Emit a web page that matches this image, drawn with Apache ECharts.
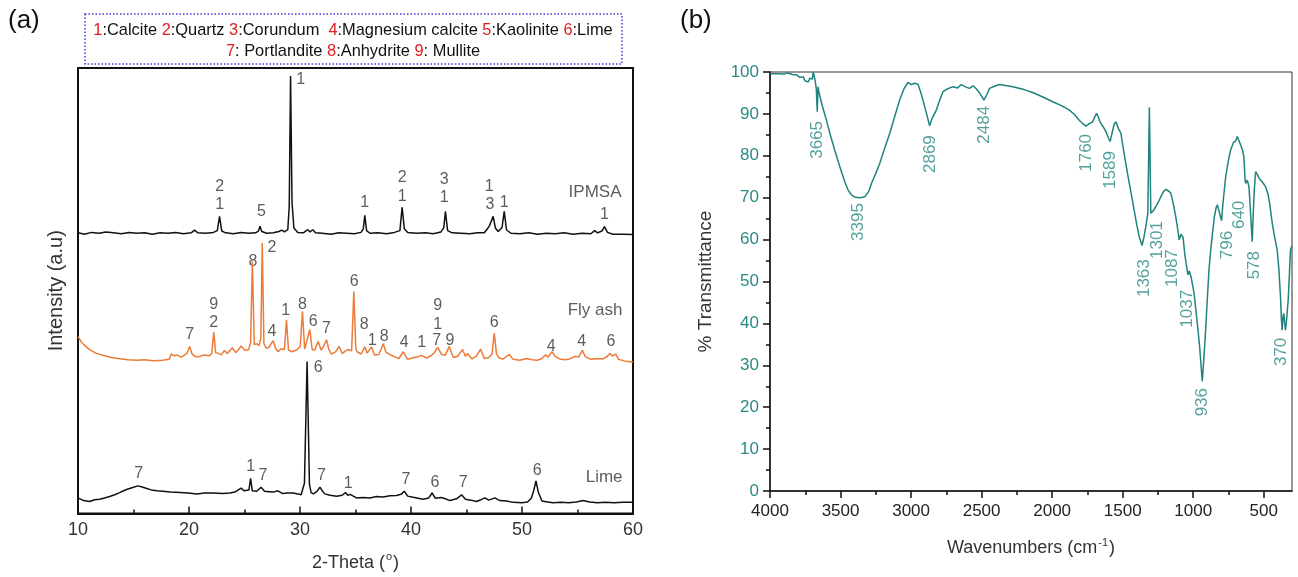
<!DOCTYPE html>
<html>
<head>
<meta charset="utf-8">
<script src="https://cdn.jsdelivr.net/npm/echarts@6/dist/echarts.min.js"></script>
<style>
html,body{margin:0;padding:0;background:#fff;}
#chart{width:1298px;height:577px;}
</style>
</head>
<body>
<div id="chart"></div>
<script>
// ---------- XRD data (2-Theta, intensity above own baseline) ----------
const xrdIPMSA = [[10,0.1],[10.6,-0.2],[11.2,0.2],[11.9,0],[12.5,0.3],[13.2,0.1],[13.9,-0.1],[14.6,0.2],[15.3,0],[16,0.1],[16.7,-0.2],[17.4,0.1],[18.1,0],[18.8,0.2],[19.5,-0.1],[20.2,0.1],[20.5,0.7],[20.8,0.1],[21.5,0],[22.2,0.2],[22.55,0.6],[22.75,3.8],[22.95,0.5],[23.3,0.1],[24,-0.1],[24.7,0.2],[25.4,0],[26,0.1],[26.25,0.5],[26.4,1.6],[26.55,0.4],[27,0],[27.6,0.1],[28.1,0.4],[28.35,0.7],[28.6,0.3],[28.9,0.8],[29.03,6],[29.15,35.3],[29.28,7],[29.45,1.2],[29.8,0.2],[30.3,0.1],[30.7,0.8],[30.9,0.3],[31.15,0.8],[31.4,0.1],[32,0],[32.8,-0.2],[33.5,0.1],[34.2,0],[34.9,-0.1],[35.5,0.2],[35.7,1],[35.84,4],[36,0.6],[36.3,0],[37,0.1],[37.8,-0.1],[38.5,0.2],[39,0.6],[39.2,5.8],[39.4,1.0],[39.7,0.2],[40.5,0],[41.3,0.1],[42,-0.1],[42.7,0.3],[42.95,1.2],[43.1,4.9],[43.3,0.6],[43.7,0.1],[44.5,0],[45.3,-0.1],[46,0.1],[46.6,0.1],[46.85,0.9],[47.05,1.6],[47.2,1.2],[47.4,3.8],[47.6,1.2],[47.85,0.4],[48.2,1.3],[48.4,4.9],[48.6,0.8],[49,0],[49.8,-0.1],[50.6,0.1],[51.4,-0.2],[52.2,0],[53,-0.1],[53.8,0.1],[54.6,-0.2],[55.4,0],[56.2,-0.1],[56.55,0.6],[56.8,0.1],[57.2,0.5],[57.43,1.5],[57.7,0.2],[58.2,-0.2],[59,-0.2],[60,-0.3]];

const xrdFlyAsh = [[10,5.4],[10.3,4.2],[10.7,3.2],[11.05,2.5],[11.6,1.7],[12.25,1.2],[13,0.7],[13.75,0.45],[14.5,0.2],[15.3,0.1],[16,0.2],[16.8,0],[17.6,0.1],[18.2,0.3],[18.4,1.5],[18.7,1.1],[18.9,1.3],[19.3,0.8],[19.8,1.6],[20.06,3.2],[20.3,1.4],[20.67,0.8],[21,1],[21.4,1.3],[21.8,1.1],[22.05,1.6],[22.23,6.4],[22.4,1.8],[22.6,1.7],[22.9,1.3],[23.2,2.3],[23.45,1.6],[23.9,2.9],[24.2,1.8],[24.5,2.6],[24.7,3.3],[25,2.4],[25.35,2.4],[25.55,4],[25.71,22.3],[25.88,3.6],[26.1,3.8],[26.3,3.4],[26.47,5],[26.6,26.4],[26.75,3.8],[26.96,2.8],[27.2,3.0],[27.58,4.5],[27.8,2.8],[28.03,2.0],[28.3,2.7],[28.6,2.5],[28.78,9.2],[28.96,2.4],[29.23,2.0],[29.7,2.4],[30.02,3.2],[30.22,11.1],[30.42,2.6],[30.6,2.3],[30.88,7.0],[31.1,2.5],[31.33,2.4],[31.63,4.3],[31.9,2.4],[32.1,3.1],[32.39,4.7],[32.6,2.5],[32.84,1.5],[33.2,2.0],[33.53,3.2],[33.8,1.6],[34.1,2.2],[34.34,2.5],[34.65,2.2],[34.85,15.5],[35.03,2.6],[35.16,2.0],[35.5,1.5],[35.84,3.1],[36.05,1.7],[36.45,3.1],[36.7,1.3],[37.1,1.4],[37.5,3.8],[37.75,1.9],[38.1,1.4],[38.6,0.8],[38.9,0.5],[39.3,2.0],[39.7,0.3],[40.1,0.6],[40.6,0.9],[40.95,1.2],[41.4,0.6],[41.8,1.1],[42.1,1.8],[42.4,3.0],[42.75,1.4],[43.1,1.3],[43.45,3.2],[43.8,0.7],[44.2,1.0],[44.65,2.5],[44.9,1.0],[45.1,1.6],[45.5,0.4],[45.9,1.1],[46.27,2.6],[46.6,0.5],[47.0,0.7],[47.3,1.5],[47.5,6.2],[47.7,1.6],[47.95,0.6],[48.3,0.4],[48.86,1.4],[49.2,0.3],[49.8,0.1],[50.4,0.5],[50.9,0.2],[51.4,0.1],[51.8,0.5],[52.1,1.3],[52.35,0.8],[52.7,2.0],[53,0.9],[53.4,0.4],[53.9,0.2],[54.3,0.4],[54.8,1.0],[55.1,0.8],[55.43,2.3],[55.7,0.9],[56.2,0.3],[56.8,0.5],[57.3,0.4],[57.7,1.0],[57.93,1.7],[58.15,1.0],[58.44,1.5],[58.7,0.3],[59.3,-0.1],[60,-0.3]];

const xrdLime = [[10,0.4],[10.5,-0.2],[11.05,-0.4],[11.5,0],[11.95,0.1],[12.4,0.4],[12.85,0.7],[13.3,1.1],[13.75,1.6],[14.1,2.0],[14.5,2.4],[15,2.8],[15.4,3.1],[15.85,2.8],[16.2,2.5],[16.6,2.2],[17.1,2.0],[17.65,1.9],[18.3,1.7],[19.2,1.6],[19.9,1.5],[20.7,1.3],[21.4,1.5],[22.2,1.5],[23,1.4],[23.7,1.5],[24.2,1.8],[24.45,2.2],[24.7,2.6],[24.95,2.0],[25.1,1.9],[25.4,2.2],[25.55,4.8],[25.7,2.0],[26.1,1.9],[26.5,2.8],[26.8,1.9],[27.2,1.8],[27.6,1.7],[28.0,2.0],[28.4,1.4],[28.9,1.5],[29.4,1.5],[29.8,1.3],[30.1,1.1],[30.4,3.7],[30.64,31.0],[30.85,3.5],[31.0,1.6],[31.2,1.3],[31.5,1.8],[31.8,2.8],[32.0,2.0],[32.23,1.3],[32.7,1.0],[33.3,0.75],[33.8,1.0],[34.1,1.6],[34.3,1.0],[34.5,1.2],[35.1,0.4],[35.7,0.5],[36.3,0.4],[36.9,0.7],[37.5,0.6],[38.1,0.9],[38.7,0.95],[39.1,1.2],[39.4,1.9],[39.7,0.8],[40.3,0.5],[41.1,0.1],[41.6,0.4],[41.9,1.5],[42.2,0.3],[42.7,0.5],[43.1,0.2],[43.5,-0.2],[44.1,0.2],[44.56,1.1],[44.9,0.1],[45.4,-0.1],[45.9,-0.4],[46.3,0.0],[46.66,0.4],[47.0,-0.1],[47.56,0.4],[48.0,-0.2],[48.6,-0.3],[49.2,-0.6],[49.97,-0.7],[50.5,-0.5],[50.85,0.4],[51.05,2.0],[51.26,4.2],[51.48,1.6],[51.8,-0.3],[52.3,-0.5],[52.8,-0.7],[53.5,-0.6],[54.2,-0.7],[54.9,-0.5],[55.5,-0.2],[56.1,-0.5],[56.8,-0.7],[57.5,-0.6],[58.3,-0.7],[59.1,-0.6],[60,-0.6]];

// vertical offsets for stacking the three patterns
const offsetIPMSA = 62.9;
const offsetFlyAsh = 34.3;
const offsetLime = 3.1;

// phase labels [2-Theta, height on stacked axis, text]
const ipmsaPeakLabels = [[22.77,73.4,'2'],[22.77,69.3,'1'],[26.53,67.8,'5'],[30.07,97.3,'1'],[35.84,69.7,'1'],[39.21,75.3,'2'],[39.21,71.1,'1'],[43.0,74.9,'3'],[43.0,70.8,'1'],[47.05,73.4,'1'],[47.11,69.3,'3'],[48.4,69.7,'1'],[57.43,67.0,'1']];
const flyAshPeakLabels = [[20.06,40.1,'7'],[22.23,46.9,'9'],[22.23,42.8,'2'],[25.77,56.6,'8'],[27.48,59.6,'2'],[27.48,40.9,'4'],[28.72,45.5,'1'],[30.23,47.0,'8'],[31.18,43.0,'6'],[32.39,41.5,'7'],[34.88,52.1,'6'],[35.78,42.4,'8'],[36.5,38.8,'1'],[37.58,39.6,'8'],[39.39,38.3,'4'],[40.96,38.3,'1'],[42.4,46.7,'9'],[42.4,42.5,'1'],[42.31,38.8,'7'],[43.51,38.8,'9'],[47.5,42.8,'6'],[52.62,37.5,'4'],[55.38,38.5,'4'],[58.02,38.6,'6']];
const limePeakLabels = [[15.46,9.0,'7'],[25.56,10.6,'1'],[26.67,8.4,'7'],[31.63,32.7,'6'],[31.94,8.5,'7'],[34.34,6.7,'1'],[39.54,7.5,'7'],[42.16,7.0,'6'],[44.71,7.0,'7'],[51.38,9.7,'6']];
const sampleNames = [[56.58,72.2,'IPMSA'],[56.58,45.7,'Fly ash'],[57.4,8.1,'Lime']];

// ---------- FTIR data (wavenumber, % transmittance) ----------
const ftir = [[4000,99.6],[3950,99.6],[3900,99.5],[3880,99.8],[3840,99.4],[3811,99.3],[3788,98.7],[3765,98.9],[3752,97.9],[3730,97.6],[3717,98.5],[3700,98.3],[3694,100],[3680,98],[3672,96],[3665,90.5],[3660,96.5],[3652,95],[3645,95.3],[3630,92],[3600,88.5],[3576,85.4],[3540,81.2],[3505,77.4],[3470,73.8],[3446,71.8],[3420,70.6],[3395,70.1],[3360,70],[3328,70.2],[3300,71.5],[3281,73.4],[3250,75.8],[3222,78.2],[3190,81.5],[3151,85.4],[3115,89.5],[3081,93.3],[3050,96],[3022,97.5],[3000,97.0],[2975,97.3],[2951,97.1],[2930,95],[2916,93.3],[2890,90],[2869,87.2],[2850,89],[2821,90.9],[2800,93],[2774,95.3],[2740,96],[2703,96.5],[2670,96.2],[2644,97.0],[2610,96.4],[2586,96.1],[2560,96.7],[2535,95.9],[2510,94.8],[2484,93.3],[2460,94.8],[2444,96.1],[2410,96.6],[2373,97],[2330,96.8],[2279,96.5],[2200,95.8],[2138,95.1],[2070,94.1],[1996,92.9],[1930,91.9],[1878,90.9],[1840,89.8],[1808,88.5],[1780,87.6],[1760,87.1],[1740,87.6],[1713,88.1],[1695,89.5],[1684,90.1],[1672,89.2],[1661,88.1],[1640,87],[1619,85.8],[1600,84.2],[1589,83.4],[1575,85.5],[1560,87.6],[1548,88.1],[1530,86.5],[1513,85.4],[1490,80.5],[1466,75.8],[1440,71],[1419,67.1],[1400,63.5],[1383,60.7],[1363,58.6],[1350,60.5],[1336,63.1],[1322,66.3],[1316,80],[1311,91.6],[1306,80],[1301,66.3],[1285,66.8],[1265,67.9],[1245,69.1],[1230,70.2],[1210,71.5],[1195,72.0],[1175,71.6],[1159,71.1],[1140,68.3],[1124,65.5],[1110,62.5],[1100,59.9],[1087,61.3],[1072,60.5],[1060,56.5],[1050,54.2],[1042,53.9],[1037,51.6],[1028,52.5],[1015,51],[994,47.2],[971,40.0],[955,34.5],[936,26.2],[924,32],[912,38.5],[900,46],[888,53],[876,57.5],[865,61],[850,65.5],[838,67.6],[829,68.3],[815,66.5],[799,64.5],[790,68.5],[770,75],[750,79],[735,81.4],[715,83.2],[700,83.5],[688,84.6],[676,83.6],[664,82.6],[652,81.5],[641,79.8],[633,74.5],[629,73.4],[617,74.2],[610,74.5],[605,72.6],[595,67],[582,59.5],[575,66],[567,72],[558,76.2],[545,75.5],[535,74.8],[523,74.2],[505,73.5],[487,72.6],[470,70.8],[460,69],[450,66.5],[440,63.9],[425,61],[405,57.5],[393,53],[381,46],[376,41.6],[370,38.4],[364,41.5],[358,42.4],[352,40],[346,38.4],[338,41],[327,45.6],[318,52],[311,57.5],[300,58.5]];

// band labels [wavenumber position, transmittance position, text]
const ftirBandLabels = [[3665,83.8,'3665'],[3371,64.2,'3395'],[2861,80.4,'2869'],[2479,87.4,'2484'],[1758,80.7,'1760'],[1588,76.6,'1589'],[1348,50.8,'1363'],[1256,59.9,'1301'],[1150,53.2,'1087'],[1044,43.5,'1037'],[936,21.2,'936'],[761,58.7,'796'],[676,65.9,'640'],[570,53.9,'578'],[379,33.2,'370']];

const ftirMajorTicks = [4000,3500,3000,2500,2000,1500,1000,500];
const ftirMinorTicks = [3750,3250,2750,2250,1750,1250,750];
const xrdTicks = [10,20,30,40,50,60];

const legendLine1 = [['1',':Calcite '],['2',':Quartz '],['3',':Corundum  '],['4',':Magnesium calcite '],['5',':Kaolinite '],['6',':Lime']];
const legendLine2 = [['7',': Portlandite '],['8',':Anhydrite '],['9',': Mullite']];

// ---------- chart ----------
const FONT = 'Liberation Sans, Arial, Helvetica, sans-serif';
const TEAL = '#1f837e';
const TEAL_TXT = '#2a8a85';
const ORANGE = '#ee7a38';

function legendText(items) {
  return items.map(([n, t]) => '{r|' + n + '}' + t).join('');
}

function labelSeries(arr, xi, yi, opts) {
  return {
    type: 'scatter', xAxisIndex: xi, yAxisIndex: yi, silent: true,
    symbolSize: 1, itemStyle: { color: 'transparent' },
    data: arr.map(d => ({ value: [d[0], d[1]], name: d[2] })),
    label: Object.assign({ show: true, position: 'inside', formatter: '{b}', fontFamily: FONT }, opts.label)
  };
}

const supRich = { sup: { fontSize: 11, verticalAlign: 'top', padding: [0, 1, 12, 1], color: '#333', fontFamily: FONT } };

const chart = echarts.init(document.getElementById('chart'), null, { renderer: 'canvas' });
const option = {
  animation: false,
  backgroundColor: '#ffffff',
  textStyle: { fontFamily: FONT },
  grid: [
    { left: 78, top: 68, width: 555, height: 446, show: true, borderColor: '#111', borderWidth: 2, backgroundColor: 'transparent' },
    { left: 770, top: 72, width: 522, height: 419, show: true, borderColor: '#333', borderWidth: 1, backgroundColor: 'transparent' }
  ],
  xAxis: [
    {
      gridIndex: 0, type: 'value', min: xrdTicks[0], max: xrdTicks[xrdTicks.length - 1], interval: 10,
      axisLine: { lineStyle: { color: '#111', width: 2 } },
      axisTick: { inside: true, length: 7, lineStyle: { color: '#111', width: 1.5 } },
      minorTick: { show: true, splitNumber: 2, length: 4, lineStyle: { color: '#111', width: 1.5 } },
      splitLine: { show: false }, minorSplitLine: { show: false },
      axisLabel: { fontSize: 18, color: '#333', margin: 8, fontFamily: FONT },
      name: '2-Theta ({sup|o})', nameLocation: 'middle', nameGap: 38,
      nameTextStyle: { fontSize: 18, color: '#333', fontFamily: FONT, rich: supRich }
    },
    {
      gridIndex: 1, type: 'value', inverse: true, min: 300, max: 4000,
      axisLine: { lineStyle: { color: '#111', width: 1.5 } },
      axisTick: { show: true, customValues: ftirMajorTicks, length: 7, lineStyle: { color: '#111', width: 1.5 } },
      axisLabel: { customValues: ftirMajorTicks, formatter: v => String(v), fontSize: 17, color: '#222', margin: 12, fontFamily: FONT },
      splitLine: { show: false },
      name: 'Wavenumbers (cm{sup|-1})', nameLocation: 'middle', nameGap: 46,
      nameTextStyle: { fontSize: 18, color: '#333', fontFamily: FONT, rich: supRich }
    },
    {
      gridIndex: 1, type: 'value', inverse: true, min: 300, max: 4000, position: 'bottom', offset: 0,
      axisLine: { show: false },
      axisTick: { show: true, customValues: ftirMinorTicks, length: 4, lineStyle: { color: '#111', width: 1.5 } },
      axisLabel: { show: false }, splitLine: { show: false }
    }
  ],
  yAxis: [
    {
      gridIndex: 0, type: 'value', min: 0, max: 100,
      axisLine: { show: true, lineStyle: { color: '#111', width: 2 } },
      axisTick: { show: false }, axisLabel: { show: false }, splitLine: { show: false },
      name: 'Intensity (a.u)', nameLocation: 'middle', nameGap: 12, nameRotate: 90,
      nameTextStyle: { fontSize: 20, color: '#333', fontFamily: FONT }
    },
    {
      gridIndex: 1, type: 'value', min: 0, max: 100, interval: 10,
      axisLine: { show: true, lineStyle: { color: '#111', width: 1.5 } },
      axisTick: { length: 7, lineStyle: { color: '#111', width: 1.5 } },
      minorTick: { show: true, splitNumber: 2, length: 4, lineStyle: { color: '#111', width: 1.5 } },
      axisLabel: { fontSize: 17, color: TEAL_TXT, margin: 11, fontFamily: FONT },
      splitLine: { show: false }, minorSplitLine: { show: false },
      name: '% Transmittance', nameLocation: 'middle', nameGap: 55, nameRotate: 90,
      nameTextStyle: { fontSize: 19, color: '#333', fontFamily: FONT }
    }
  ],
  series: [
    { type: 'line', name: 'IPMSA', xAxisIndex: 0, yAxisIndex: 0, showSymbol: false, silent: true,
      lineStyle: { color: '#111', width: 1.5 }, data: xrdIPMSA.map(d => [d[0], d[1] + offsetIPMSA]) },
    { type: 'line', name: 'Fly ash', xAxisIndex: 0, yAxisIndex: 0, showSymbol: false, silent: true,
      lineStyle: { color: ORANGE, width: 1.5 }, data: xrdFlyAsh.map(d => [d[0], d[1] + offsetFlyAsh]) },
    { type: 'line', name: 'Lime', xAxisIndex: 0, yAxisIndex: 0, showSymbol: false, silent: true,
      lineStyle: { color: '#111', width: 1.5 }, data: xrdLime.map(d => [d[0], d[1] + offsetLime]) },
    labelSeries(ipmsaPeakLabels.concat(flyAshPeakLabels, limePeakLabels), 0, 0,
      { label: { fontSize: 16, color: '#333' } }),
    labelSeries(sampleNames, 0, 0, { label: { fontSize: 17, color: '#333' } }),
    { type: 'line', name: 'FTIR', xAxisIndex: 1, yAxisIndex: 1, showSymbol: false, silent: true,
      lineStyle: { color: TEAL, width: 1.5 }, data: ftir },
    labelSeries(ftirBandLabels, 1, 1, { label: { fontSize: 17, color: TEAL_TXT, rotate: 90 } })
  ],
  graphic: [
    { type: 'text', left: 8, top: 8, style: { text: '(a)', fontSize: 26, fontFamily: FONT, fill: '#111' } },
    { type: 'text', left: 680, top: 8, style: { text: '(b)', fontSize: 26, fontFamily: FONT, fill: '#111' } },
    { type: 'rect', shape: { x: 85, y: 14, width: 537, height: 50 },
      style: { fill: 'none', stroke: '#3d3dd6', lineWidth: 1.5, lineDash: [1.5, 2] } },
    { type: 'text', x: 353, y: 30,
      style: { text: legendText(legendLine1), fontSize: 16.4, fontFamily: FONT, fill: '#111',
        align: 'center', verticalAlign: 'middle', textAlign: 'center', textVerticalAlign: 'middle',
        rich: { r: { fill: '#e02020', fontSize: 16.4, fontFamily: FONT } } } },
    { type: 'text', x: 353, y: 51,
      style: { text: legendText(legendLine2), fontSize: 16.4, fontFamily: FONT, fill: '#111',
        align: 'center', verticalAlign: 'middle', textAlign: 'center', textVerticalAlign: 'middle',
        rich: { r: { fill: '#e02020', fontSize: 16.4, fontFamily: FONT } } } }
  ]
};
chart.setOption(option);
</script>
</body>
</html>
